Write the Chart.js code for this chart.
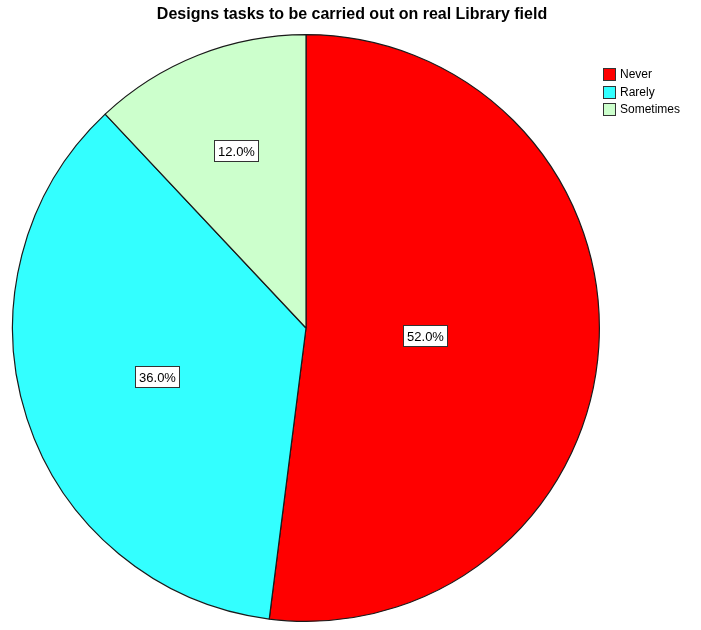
<!DOCTYPE html>
<html>
<head>
<meta charset="utf-8">
<title>Designs tasks to be carried out on real Library field</title>
<script src="https://cdn.jsdelivr.net/npm/chart.js@4/dist/chart.umd.min.js"></script>
<style>
  html, body { margin: 0; padding: 0; background: #fff; }
  #wrap { width: 701px; height: 630px; }
</style>
</head>
<body>
<div id="wrap"><canvas id="chart" width="701" height="630"></canvas></div>
<script>
//-----------------------------------------------------------------------------
// Data
//-----------------------------------------------------------------------------

var chartTitle = 'Designs tasks to be carried out on real Library field';
var categories = ['Never', 'Rarely', 'Sometimes'];
var percents = [52.0, 36.0, 12.0];
var sliceColors = ['#ff0000', '#33ffff', '#ccffcc'];

var FONT = '"Liberation Sans", Arial, sans-serif';


// Plugins
//-----------------------------------------------------------------------------

// title centered on the whole picture, not on the pie area
var pageTitle = {
  id: 'pageTitle',
  afterDraw: function(chart) {
    var ctx = chart.ctx;
    ctx.save();
    ctx.font = 'bold 16px ' + FONT;
    ctx.fillStyle = '#000';
    ctx.textAlign = 'center';
    ctx.textBaseline = 'middle';
    ctx.fillText(chartTitle, 352, 15);
    ctx.restore();
  }
};

// white boxed percentage at the centroid of each slice (like SPSS does it)
var sliceLabels = {
  id: 'sliceLabels',
  afterDatasetsDraw: function(chart) {
    var ctx = chart.ctx;
    var meta = chart.getDatasetMeta(0);
    ctx.save();
    ctx.font = '13px ' + FONT;
    ctx.textAlign = 'center';
    ctx.textBaseline = 'middle';
    meta.data.forEach(function(arc, i) {
      var p = arc.getProps(['x', 'y', 'startAngle', 'endAngle', 'outerRadius'], true);
      var theta = p.endAngle - p.startAngle;
      var mid = p.startAngle + theta / 2;
      var dist = 4 * p.outerRadius * Math.sin(theta / 2) / (3 * theta);
      var cx = p.x + Math.cos(mid) * dist;
      var cy = p.y + Math.sin(mid) * dist;
      var text = chart.data.datasets[0].data[i].toFixed(1) + '%';
      var w = Math.round(ctx.measureText(text).width) + 7;
      var h = 21;
      var bx = Math.round(cx - w / 2) + 0.5;
      var by = Math.round(cy - h / 2) + 0.5;
      ctx.fillStyle = '#fff';
      ctx.fillRect(bx, by, w, h);
      ctx.strokeStyle = '#333';
      ctx.lineWidth = 1;
      ctx.strokeRect(bx, by, w, h);
      ctx.fillStyle = '#000';
      ctx.fillText(text, bx + w / 2, by + h / 2 + 1);
    });
    ctx.restore();
  }
};

// small legend box at the top right
var cornerLegend = {
  id: 'cornerLegend',
  afterDraw: function(chart) {
    var ctx = chart.ctx;
    var ds = chart.data.datasets[0];
    var x = 603, y = 68, step = 17.5;
    ctx.save();
    ctx.font = '12px ' + FONT;
    ctx.textBaseline = 'middle';
    chart.data.labels.forEach(function(label, i) {
      var top = Math.round(y + i * step);
      ctx.fillStyle = ds.backgroundColor[i];
      ctx.fillRect(x, top, 13, 13);
      ctx.strokeStyle = '#333';
      ctx.lineWidth = 1;
      ctx.strokeRect(x + 0.5, top + 0.5, 12, 12);
      ctx.fillStyle = '#000';
      ctx.fillText(label, x + 17, top + 7);
    });
    ctx.restore();
  }
};


// Chart
//-----------------------------------------------------------------------------

var chart = new Chart(document.getElementById('chart'), {
  type: 'pie',
  data: {
    labels: categories,
    datasets: [{
      data: percents,
      backgroundColor: sliceColors,
      borderColor: '#1a1a1a',
      borderWidth: 1.2
    }]
  },
  options: {
    responsive: false,
    animation: false,
    devicePixelRatio: 1,
    layout: { padding: { left: 12, right: 101, top: 31, bottom: 5 } },
    plugins: {
      legend: { display: false },
      tooltip: { enabled: false },
      title: { display: false }
    }
  },
  plugins: [sliceLabels, cornerLegend, pageTitle]
});
</script>
</body>
</html>
